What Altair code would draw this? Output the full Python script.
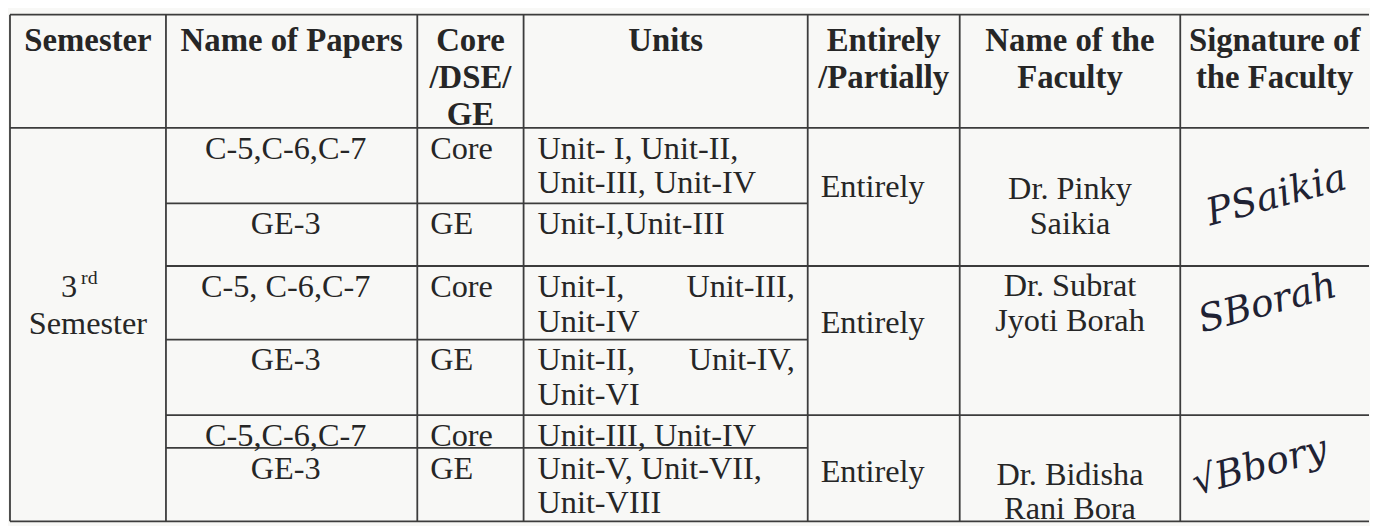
import altair as alt
import pandas as pd

# ---------------- content ----------------
HEADERS = [["Semester"], ["Name of Papers"], ["Core", "/DSE/", "GE"], ["Units"],
           ["Entirely", "/Partially"], ["Name of the", "Faculty"], ["Signature of", "the Faculty"]]
SEMESTER_NUM = "3"
SEMESTER_SUP = "rd"
SEMESTER_WORD = "Semester"
PAPERS = ["C-5,C-6,C-7", "GE-3", "C-5, C-6,C-7", "GE-3", "C-5,C-6,C-7", "GE-3"]
PAPER_TYPES = ["Core", "GE", "Core", "GE", "Core", "GE"]
UNITS = [
    [("Unit- I, Unit-II,", ""), ("Unit-III, Unit-IV", "")],
    [("Unit-I,Unit-III", "")],
    [("Unit-I,", "Unit-III,"), ("Unit-IV", "")],
    [("Unit-II,", "Unit-IV,"), ("Unit-VI", "")],
    [("Unit-III, Unit-IV", "")],
    [("Unit-V, Unit-VII,", ""), ("Unit-VIII", "")],
]
COVERAGE = ["Entirely", "Entirely", "Entirely"]
FACULTY = [["Dr. Pinky", "Saikia"], ["Dr. Subrat", "Jyoti Borah"], ["Dr. Bidisha", "Rani Bora"]]
SIGNATURES = ["PSaikia", "SBorah", "√Bbory"]

# ---------------- layout of the grid (page pixels) ----------------
COL_EDGES = [10, 167, 420, 527, 813, 966, 1188, 1378]
ROW_EDGES = [13, 127, 203, 266, 340, 416, 449, 523]
GROUPS = [(0, 2), (2, 4), (4, 6)]          # sub-rows covered by each faculty block
HEAD_Y0, HEAD_PITCH = 40, 37
LINE_OFF, LINE_PITCH = 21, 35
PAD = 13
ENT_Y = [187, 323, 473]
FAC_Y = [189, 286, 476]
SIG_Y = [196, 304, 468]
SIG_X = [1285, 1276, 1268]
SEM_Y = (287, 278, 324)

W, H = 1362, 516
X0, Y0 = 8, 8

def center(c):
    return (COL_EDGES[c] + COL_EDGES[c + 1]) / 2

# ---------------- build tables ----------------
bold_rows, center_rows, left_rows, right_rows = [], [], [], []

for c, lines in enumerate(HEADERS):
    for k, t in enumerate(lines):
        bold_rows.append({"x": center(c), "y": HEAD_Y0 + HEAD_PITCH * k, "t": t})

for i, (p, kind, units) in enumerate(zip(PAPERS, PAPER_TYPES, UNITS)):
    top = ROW_EDGES[i + 1]
    center_rows.append({"x": center(1) - 6, "y": top + LINE_OFF, "t": p})
    left_rows.append({"x": COL_EDGES[2] + PAD, "y": top + LINE_OFF, "t": kind})
    for k, (lt, rt) in enumerate(units):
        y = top + LINE_OFF + LINE_PITCH * k
        left_rows.append({"x": COL_EDGES[3] + PAD + 1, "y": y, "t": lt})
        if rt:
            right_rows.append({"x": COL_EDGES[4] - PAD, "y": y, "t": rt})

for g, (cov, names) in enumerate(zip(COVERAGE, FACULTY)):
    left_rows.append({"x": COL_EDGES[4] + PAD, "y": ENT_Y[g], "t": cov})
    for k, n in enumerate(names):
        center_rows.append({"x": center(5), "y": FAC_Y[g] + LINE_PITCH * k, "t": n})

right_rows.append({"x": center(0) - 11, "y": SEM_Y[0], "t": SEMESTER_NUM})
sup_rows = [{"x": center(0) - 7, "y": SEM_Y[1], "t": SEMESTER_SUP}]
center_rows.append({"x": center(0), "y": SEM_Y[2], "t": SEMESTER_WORD})

sig_rows = [{"x": SIG_X[g], "y": SIG_Y[g], "t": s} for g, s in enumerate(SIGNATURES)]

# grid segments
h_rows = [
    {"x": COL_EDGES[0], "x2": COL_EDGES[-1], "y": ROW_EDGES[0]},
    {"x": COL_EDGES[0], "x2": COL_EDGES[-1], "y": ROW_EDGES[1]},
    {"x": COL_EDGES[0], "x2": COL_EDGES[-1], "y": ROW_EDGES[-1]},
]
for i in range(2, len(ROW_EDGES) - 1):
    sub = i - 1
    group_end = any(sub == b for (_, b) in GROUPS)
    h_rows.append({"x": COL_EDGES[1], "x2": COL_EDGES[-1] if group_end else COL_EDGES[4],
                   "y": ROW_EDGES[i]})
v_rows = [{"x": x, "y": ROW_EDGES[0], "y2": ROW_EDGES[-1]} for x in COL_EDGES[:-1]]

xs = alt.Scale(domain=[X0, X0 + W], nice=False, zero=False)
ys = alt.Scale(domain=[Y0, Y0 + H], nice=False, zero=False, reverse=True)
X = alt.X("x:Q", scale=xs, axis=None)
Y = alt.Y("y:Q", scale=ys, axis=None)

INK = "#262626"
FONT = "Liberation Serif"

hlines = alt.Chart(pd.DataFrame(h_rows)).mark_rule(color="#3c3c3c", strokeWidth=1.8).encode(
    x=X, x2="x2:Q", y=Y)
vlines = alt.Chart(pd.DataFrame(v_rows)).mark_rule(color="#3c3c3c", strokeWidth=1.8).encode(
    x=X, y=Y, y2="y2:Q")

def text_layer(rows, **kw):
    return alt.Chart(pd.DataFrame(rows)).mark_text(baseline="middle", font=FONT, color=INK, **kw).encode(
        x=X, y=Y, text="t:N")

head = text_layer(bold_rows, align="center", fontSize=33, fontWeight="bold")
body_c = text_layer(center_rows, align="center", fontSize=32.5)
body_l = text_layer(left_rows, align="left", fontSize=32.5)
body_r = text_layer(right_rows, align="right", fontSize=32.5)
sup = text_layer(sup_rows, align="left", fontSize=20)
sig = alt.Chart(pd.DataFrame(sig_rows)).mark_text(
    baseline="middle", align="center", font="DejaVu Serif", fontStyle="italic", fontSize=38,
    color="#1f2233", angle=345).encode(x=X, y=Y, text="t:N")

chart = alt.layer(hlines, vlines, head, body_c, body_l, body_r, sup, sig).properties(
    width=W, height=H, padding=0, background="#f8f8f6"
).configure_view(strokeWidth=0)

chart.save("out.html", embed_options={"renderer": "svg", "actions": False})
